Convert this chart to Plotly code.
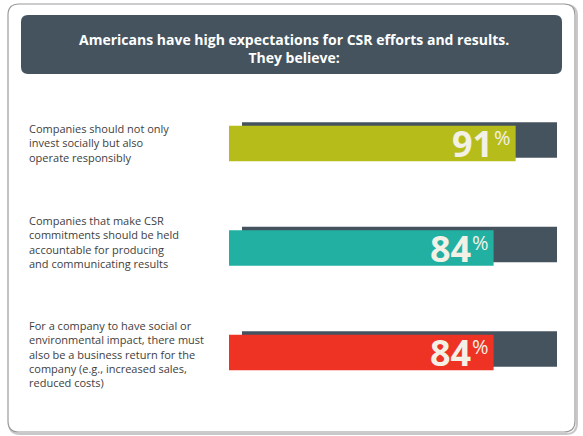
import plotly.graph_objects as go

# ---- data ----
statements = [
    "Companies should not only<br>invest socially but also<br>operate responsibly",
    "Companies that make CSR<br>commitments should be held<br>accountable for producing<br>and communicating results",
    "For a company to have social or<br>environmental impact, there must<br>also be a business return for the<br>company (e.g., increased sales,<br>reduced costs)",
]
categories = ["Invest & operate", "Accountable for results", "Business return"]
values = [91, 84, 84]
totals = [100, 100, 100]
bar_colors = ["#b6bd1b", "#22b0a3", "#ee3224"]
title_text = "Americans have high expectations for CSR efforts and results.<br>They believe:"

W, H = 583, 436
DARK = "#44535e"


def px(x):
    return x / W


def py(y):
    return 1 - y / H


def rounded_rect(x0, y0, x1, y1, r):
    X0, X1 = px(x0), px(x1)
    Y0, Y1 = py(y0), py(y1)
    rx, ry = r / W, r / H
    return (f"M{X0+rx},{Y0} L{X1-rx},{Y0} Q{X1},{Y0} {X1},{Y0-ry} "
            f"L{X1},{Y1+ry} Q{X1},{Y1} {X1-rx},{Y1} "
            f"L{X0+rx},{Y1} Q{X0},{Y1} {X0},{Y1+ry} "
            f"L{X0},{Y0-ry} Q{X0},{Y0} {X0+rx},{Y0} Z")


fig = go.Figure()

# background (dark) bars - 100%
fig.add_trace(go.Bar(
    x=totals, y=categories, orientation="h",
    marker=dict(color=DARK, line=dict(width=0)),
    width=0.34, xaxis="x", yaxis="y", hoverinfo="skip", showlegend=False,
))
# value bars
fig.add_trace(go.Bar(
    x=values, y=categories, orientation="h",
    marker=dict(color=bar_colors, line=dict(width=0)),
    width=0.34, xaxis="x2", yaxis="y2", hoverinfo="skip", showlegend=False,
))

annotations = []
for cat, v in zip(categories, values):
    annotations.append(dict(
        x=v, y=cat, xref="x2", yref="y2", text=f"<b>{v}</b>",
        showarrow=False, xanchor="right", yanchor="middle", xshift=-21, yshift=0,
        font=dict(family="Open Sans", size=36, color="#f3f0e6"),
    ))
    annotations.append(dict(
        x=v, y=cat, xref="x2", yref="y2", text="%",
        showarrow=False, xanchor="right", yanchor="middle", xshift=-3, yshift=6,
        font=dict(family="Open Sans", size=20, color="#f3f0e6"),
    ))
for cat, s, ys in zip(categories, statements, [1, 6, -1]):
    annotations.append(dict(
        x=px(27), y=cat, xref="paper", yref="y2", text=s, align="left",
        showarrow=False, xanchor="left", yanchor="middle", yshift=ys,
        font=dict(family="Open Sans", size=11, color="#3e3e3e"),
    ))
annotations.append(dict(
    x=px(294), y=py(48), xref="paper", yref="paper", text=f"<b>{title_text}</b>",
    showarrow=False, xanchor="center", yanchor="middle", align="center",
    font=dict(family="Open Sans", size=14, color="#ffffff"),
))

shapes = [
    # shadow of outer box
    dict(type="path", path=rounded_rect(9, 5, 577, 434, 11), xref="paper", yref="paper",
         line=dict(color="#c8c8c8", width=2), fillcolor="rgba(0,0,0,0)", layer="below"),
    dict(type="path", path=rounded_rect(8, 4, 575, 432, 11), xref="paper", yref="paper",
         line=dict(color="#9a9a9a", width=1.2), fillcolor="#ffffff", layer="below"),
    dict(type="path", path=rounded_rect(21, 15, 562, 74, 7), xref="paper", yref="paper",
         line=dict(width=0), fillcolor=DARK, layer="below"),
]

unit = 104.5
c0_val, c0_dark = 143.5, 140.0

fig.update_layout(
    width=W, height=H,
    margin=dict(l=0, r=0, t=0, b=0),
    paper_bgcolor="#ffffff",
    plot_bgcolor="rgba(0,0,0,0)",
    barmode="overlay",
    xaxis=dict(domain=[px(242), px(557)], range=[0, 100], visible=False, fixedrange=True),
    yaxis=dict(domain=[py(c0_dark - unit / 2 + 3 * unit), py(c0_dark - unit / 2)],
               range=[2.5, -0.5], categoryorder="array", categoryarray=categories,
               visible=False, anchor="x"),
    xaxis2=dict(domain=[px(229), px(544)], range=[0, 100], visible=False, anchor="y2"),
    yaxis2=dict(domain=[py(c0_val - unit / 2 + 3 * unit), py(c0_val - unit / 2)],
                range=[2.5, -0.5], categoryorder="array", categoryarray=categories,
                visible=False, anchor="x2"),
    annotations=annotations,
    shapes=shapes,
    font=dict(family="Open Sans"),
)

fig.write_html(
    "out.html",
    config={"displayModeBar": False, "staticPlot": True},
    post_script="document.body.style.margin='0';document.body.style.overflow='hidden';",
)
